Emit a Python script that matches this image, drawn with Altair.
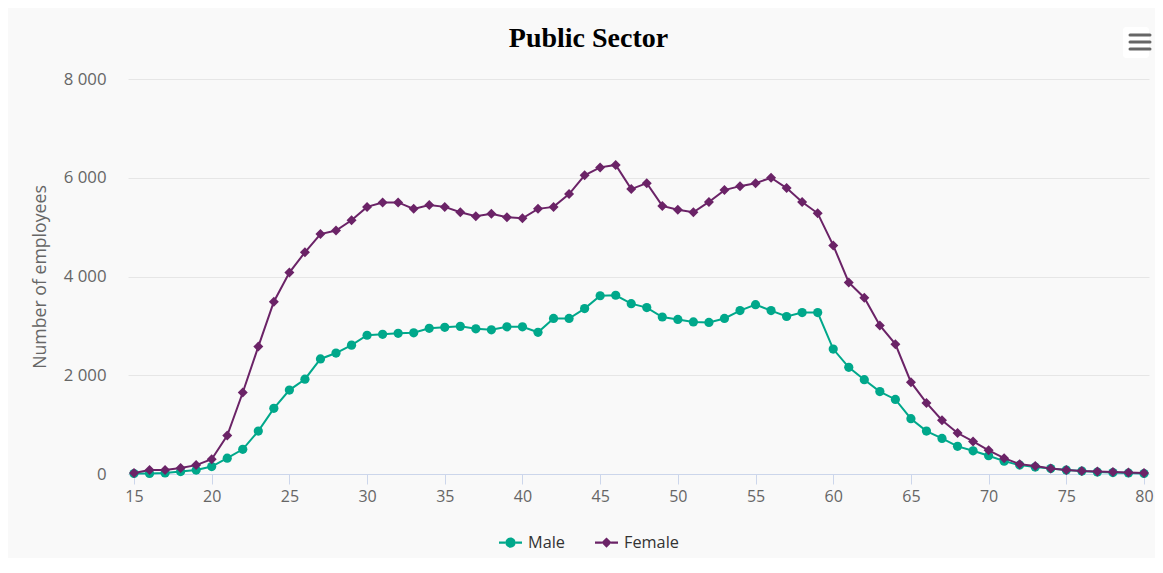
import altair as alt
import pandas as pd

ages = list(range(15, 81))
male = [10, 10, 20, 50, 80, 150, 320, 500, 870, 1330,
        1700, 1920, 2330, 2450, 2610, 2810, 2830, 2850, 2860, 2950,
        2970, 2990, 2940, 2920, 2980, 2980, 2870, 3150, 3150, 3350,
        3610, 3620, 3450, 3370, 3180, 3130, 3080, 3070, 3150, 3310,
        3430, 3310, 3190, 3270, 3270, 2530, 2160, 1910, 1670, 1510,
        1120, 870, 720, 560, 470, 370, 260, 180, 140, 110,
        80, 60, 40, 30, 20, 10]
female = [20, 80, 80, 120, 180, 300, 780, 1650, 2580, 3490,
          4080, 4490, 4860, 4930, 5140, 5410, 5500, 5500, 5370, 5450,
          5410, 5300, 5220, 5270, 5200, 5180, 5370, 5410, 5670, 6050,
          6210, 6260, 5770, 5890, 5430, 5350, 5300, 5510, 5750, 5830,
          5890, 6000, 5790, 5510, 5280, 4630, 3880, 3570, 3010, 2630,
          1860, 1440, 1090, 830, 660, 480, 320, 200, 160, 110,
          80, 60, 50, 40, 30, 20]
series_names = ["Male", "Female"]
series_colors = ["#00a88b", "#6b2367"]
x_ticks = list(range(15, 81, 5))
y_ticks = [0, 2000, 4000, 6000, 8000]

df = pd.DataFrame({
    "age": ages * 2,
    "count": male + female,
    "series": ["Male"] * len(ages) + ["Female"] * len(ages),
})

FONT = "Open Sans"

x_enc = alt.X(
    "age:Q",
    scale=alt.Scale(domain=[14.614, 80.322], nice=False, zero=False),
    axis=alt.Axis(
        values=x_ticks, title=None, grid=False,
        domainColor="#ccd6eb", domainWidth=1,
        tickColor="#ccd6eb", tickSize=10, tickWidth=1,
        labelFontSize=16, labelColor="#666666", labelFont=FONT,
        labelPadding=4, labelFlush=False,
    ),
)
y_enc = alt.Y(
    "count:Q",
    scale=alt.Scale(domain=[0, 8000], nice=False),
    axis=alt.Axis(
        values=y_ticks, domain=False, ticks=False,
        gridColor="#e6e6e6", gridWidth=1,
        labelExpr="replace(format(datum.value, ','), ',', ' ')",
        labelFontSize=16.8, labelColor="#666666", labelFont=FONT,
        labelPadding=22,
        title="Number of employees", titleFont=FONT, titleFontSize=17.7,
        titleFontWeight="normal", titleColor="#666666", titlePadding=14,
    ),
)
color_scale = alt.Scale(domain=series_names, range=series_colors)

circle_line = ("M-1,-0.09L-0.45,-0.09L-0.45,0.09L-1,0.09Z"
               "M0.45,-0.09L1,-0.09L1,0.09L0.45,0.09Z"
               "M-0.45,0A0.45,0.45 0 1,1 0.45,0A0.45,0.45 0 1,1 -0.45,0Z")
diamond_line = ("M-1,-0.09L-0.4,-0.09L-0.4,0.09L-1,0.09Z"
                "M0.4,-0.09L1,-0.09L1,0.09L0.4,0.09Z"
                "M0,-0.45L0.45,0L0,0.45L-0.45,0Z")

base = alt.Chart(df)


def series_layers(name, shape, size):
    sub = base.transform_filter(alt.datum.series == name)
    line = sub.mark_line(strokeWidth=2).encode(
        x=x_enc, y=y_enc,
        color=alt.Color("series:N", scale=color_scale, legend=None),
    )
    pts = sub.mark_point(filled=True, shape=shape, size=size, opacity=1).encode(
        x=x_enc, y=y_enc,
        color=alt.Color("series:N", scale=color_scale, legend=None),
    )
    return [line, pts]


legend_props = dict(
    title=None, orient="none", legendX=371, legendY=452, direction="horizontal",
    labelFont=FONT, labelFontSize=16.3, labelColor="#333333", labelFontWeight="normal",
    symbolSize=529, symbolStrokeWidth=0, labelOffset=6, columnPadding=30,
    symbolOpacity=1,
)
legend_layer = base.transform_filter("false").mark_point(filled=True, opacity=1).encode(
    x=x_enc, y=y_enc,
    color=alt.Color("series:N", scale=color_scale, legend=alt.Legend(**legend_props)),
    shape=alt.Shape("series:N",
                    scale=alt.Scale(domain=series_names, range=[circle_line, diamond_line]),
                    legend=alt.Legend(**legend_props)),
)

menu_df = pd.DataFrame({"k": [0]})
menu_box = alt.Chart(menu_df).mark_rect(color="#ffffff", cornerRadius=3).encode(
    x=alt.value(995), x2=alt.value(1021), y=alt.value(-52), y2=alt.value(-21))
menu_bars = [
    alt.Chart(menu_df).mark_rule(color="#666666", strokeWidth=3, strokeCap="round").encode(
        x=alt.value(1002), x2=alt.value(1022), y=alt.value(yy))
    for yy in (-44, -37, -30)
]

layers = series_layers("Male", "circle", 85) + series_layers("Female", "diamond", 100)
chart = alt.layer(*layers, legend_layer, menu_box, *menu_bars).resolve_legend(
    color="independent", shape="independent"
).properties(
    width=1021, height=395,
    autosize=alt.AutoSizeParams(type="none"),
    padding={"left": 120, "top": 71, "right": 6, "bottom": 84},
    background="#f9f9f9",
    title=alt.TitleParams(
        "Public Sector", font="Liberation Serif", fontSize=28, fontWeight="bold",
        color="#000000", anchor="middle", frame="group", offset=-26, dx=-50,
    ),
).configure_view(stroke=None)

chart.save("out.html", embed_options={"renderer": "svg", "actions": False})
